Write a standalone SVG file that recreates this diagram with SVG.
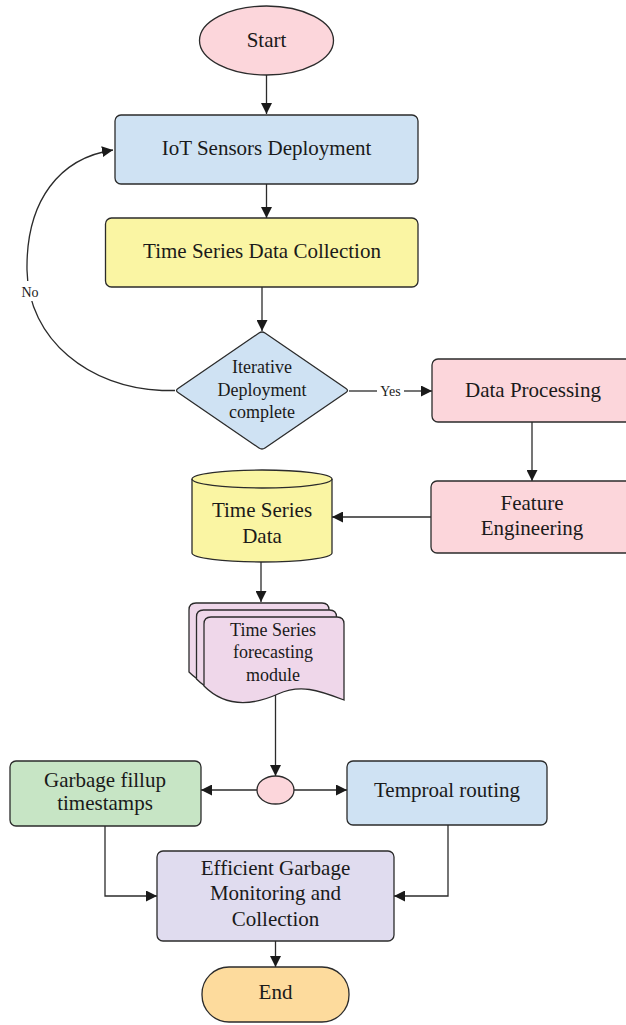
<svg xmlns="http://www.w3.org/2000/svg" width="626" height="1025" viewBox="0 0 626 1025">
<style>
.shape{stroke:#2b2b2b;stroke-width:1.3}
.t{font-family:"Liberation Serif","Times New Roman",serif;font-size:21px;fill:#1a1a1a;text-anchor:middle}
.s{font-size:18px}
.lbl{font-family:"Liberation Serif","Times New Roman",serif;font-size:14px;fill:#1a1a1a;text-anchor:middle}
.c{fill:none;stroke:#2b2b2b;stroke-width:1.3}
.pink{fill:#fcd6db}.blue{fill:#cfe2f3}.yellow{fill:#faf5a3}.lav{fill:#efd7ea}.green{fill:#c7e5c5}.purple{fill:#e0dcef}.orange{fill:#fddb9d}
</style>
<defs>
<marker id="ah" viewBox="0 0 10 10" refX="10" refY="5" markerWidth="11" markerHeight="11" markerUnits="userSpaceOnUse" orient="auto">
<path d="M0,0 L10,5 L0,10 Z" fill="#1a1a1a"/>
</marker>
<path id="doc" d="M211,617 L337,617 Q344,617 344,624 L344,700 C318,690 300,684 278,694 C258,703 228,710 204,686 L204,624 Q204,617 211,617 Z"/>
</defs>
<rect width="626" height="1025" fill="#ffffff"/>
<g id="connectors">
<path class="c" d="M266.5,75 L266.5,114" marker-end="url(#ah)"/>
<path class="c" d="M266.5,184 L266.5,218" marker-end="url(#ah)"/>
<path class="c" d="M262,287 L262,331" marker-end="url(#ah)"/>
<path class="c" d="M175,390.5 L162,390.5 C90,388 28,340 27,270 C26,200 60,158 113,150" marker-end="url(#ah)"/>
<path class="c" d="M349,391 L377,391"/>
<path class="c" d="M404,391 L432,391" marker-end="url(#ah)"/>
<path class="c" d="M532,422 L532,481" marker-end="url(#ah)"/>
<path class="c" d="M431,517 L332,517" marker-end="url(#ah)"/>
<path class="c" d="M261,562 L261,602" marker-end="url(#ah)"/>
<path class="c" d="M275.5,695 L275.5,776" marker-end="url(#ah)"/>
<path class="c" d="M257,790 L201,790" marker-end="url(#ah)"/>
<path class="c" d="M294,790 L347,790" marker-end="url(#ah)"/>
<path class="c" d="M105,826 L105,896 L157,896" marker-end="url(#ah)"/>
<path class="c" d="M448,825 L448,896 L394,896" marker-end="url(#ah)"/>
<path class="c" d="M275.5,941 L275.5,967" marker-end="url(#ah)"/>
<rect x="19" y="281" width="22" height="20" fill="#ffffff"/>
<text class="lbl" x="30" y="297">No</text>
<text class="lbl" x="390.5" y="395.5">Yes</text>
</g>
<g id="start">
<ellipse class="shape pink" cx="266.5" cy="40.5" rx="67" ry="34.5"/>
<text class="t" x="266.5" y="47">Start</text>
</g>
<g id="iot">
<rect class="shape blue" x="115" y="115" width="303" height="69" rx="6"/>
<text class="t" x="266.5" y="155">IoT Sensors Deployment</text>
</g>
<g id="collection">
<rect class="shape yellow" x="105.5" y="218" width="312.5" height="69" rx="6"/>
<text class="t" x="262" y="258">Time Series Data Collection</text>
</g>
<g id="decision">
<path class="shape blue" d="M259,333 Q262,331 265,333 L346,388.5 Q349,390.5 346,392.5 L265,448 Q262,450 259,448 L178,392.5 Q175,390.5 178,388.5 Z"/>
<text class="t s" x="262" y="373">Iterative</text>
<text class="t s" x="262" y="395.5">Deployment</text>
<text class="t s" x="262" y="418">complete</text>
</g>
<g id="processing">
<rect class="shape pink" x="432" y="359" width="202" height="63" rx="6"/>
<text class="t" x="533" y="397">Data Processing</text>
</g>
<g id="feature">
<rect class="shape pink" x="431" y="481" width="203" height="72" rx="6"/>
<text class="t" x="532" y="509.5">Feature</text>
<text class="t" x="532" y="535">Engineering</text>
</g>
<g id="tsdata">
<path class="shape yellow" d="M192,479 L192,553 A70,9 0 0 0 332,553 L332,479 A70,9 0 0 0 192,479 Z"/>
<path class="shape" fill="none" d="M192,479 A70,9 0 0 0 332,479"/>
<text class="t" x="262" y="517">Time Series</text>
<text class="t" x="262" y="543">Data</text>
</g>
<g id="forecasting">
<use href="#doc" class="shape lav" transform="translate(-15,-14)"/>
<use href="#doc" class="shape lav" transform="translate(-7.5,-7)"/>
<use href="#doc" class="shape lav"/>
<text class="t s" x="273" y="636">Time Series</text>
<text class="t s" x="273" y="658">forecasting</text>
<text class="t s" x="273" y="681">module</text>
</g>
<g id="junction">
<ellipse class="shape pink" cx="275.5" cy="790" rx="18.5" ry="14"/>
</g>
<g id="garbage">
<rect class="shape green" x="10" y="761" width="191" height="65" rx="6"/>
<text class="t" x="105" y="787">Garbage fillup</text>
<text class="t" x="105" y="810">timestamps</text>
</g>
<g id="routing">
<rect class="shape blue" x="347" y="761" width="200" height="64" rx="6"/>
<text class="t" x="447" y="797">Temproal routing</text>
</g>
<g id="efficient">
<rect class="shape purple" x="157" y="851" width="237" height="90" rx="6"/>
<text class="t" x="275.5" y="875">Efficient Garbage</text>
<text class="t" x="275.5" y="900">Monitoring and</text>
<text class="t" x="275.5" y="926">Collection</text>
</g>
<g id="end">
<rect class="shape orange" x="202" y="967" width="147" height="55" rx="27"/>
<text class="t" x="275.5" y="999">End</text>
</g>
</svg>
